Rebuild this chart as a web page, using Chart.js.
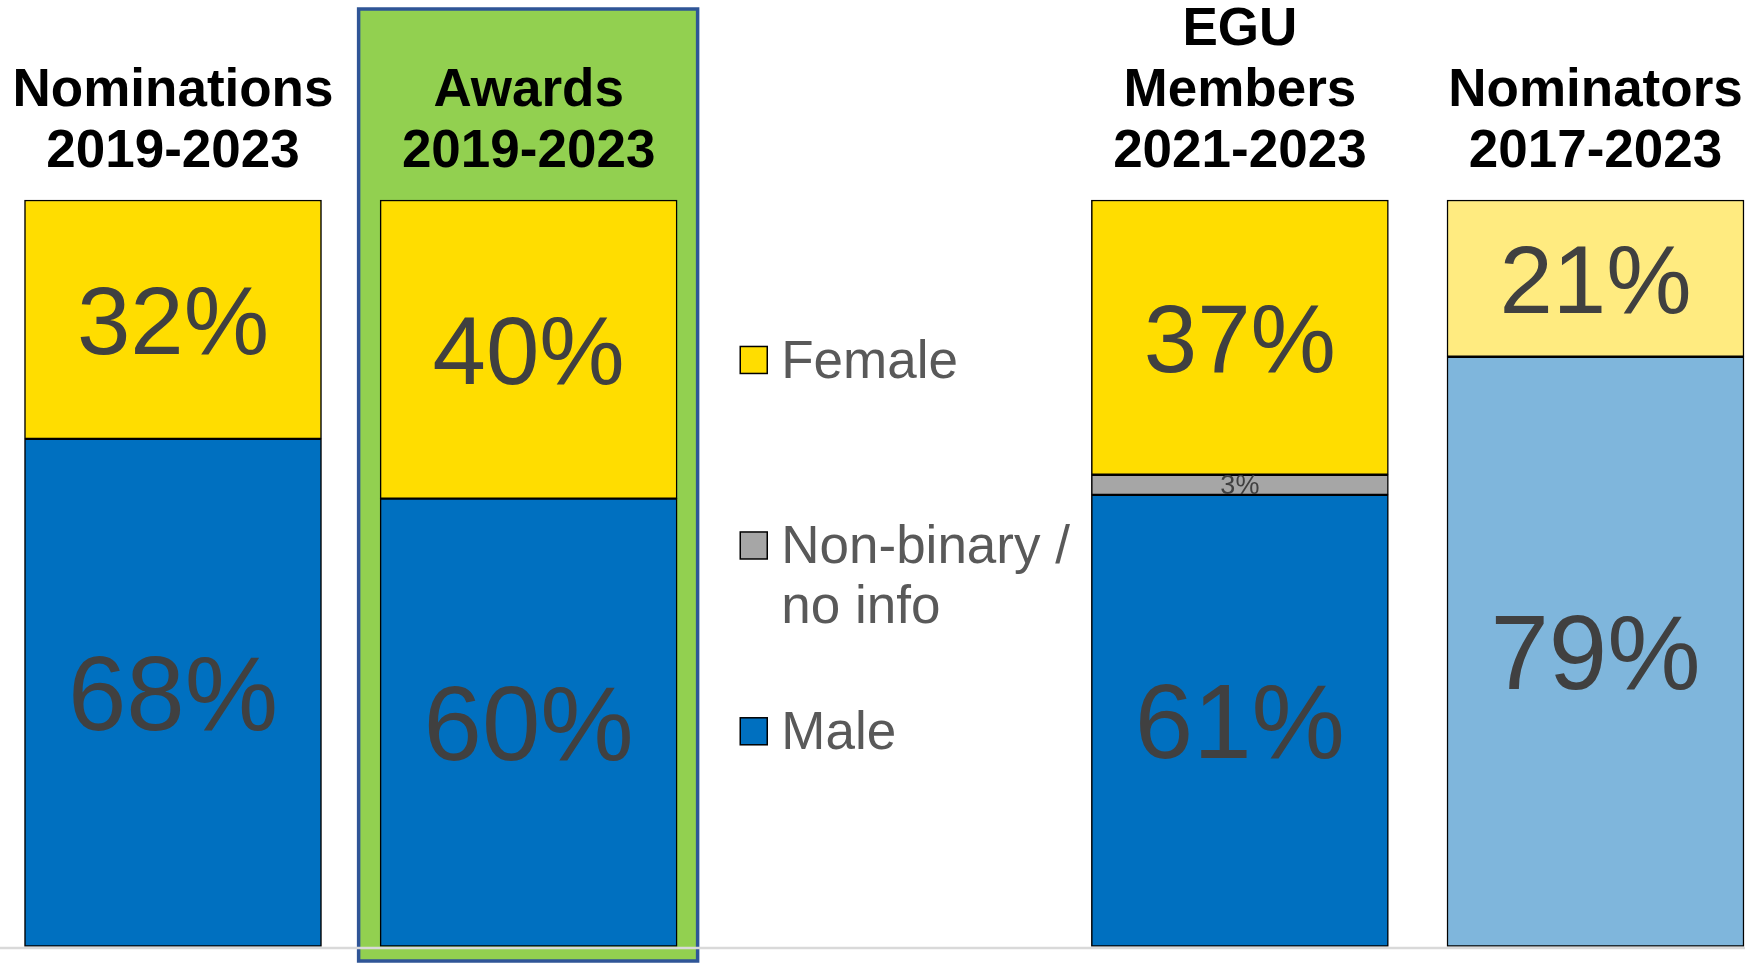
<!DOCTYPE html>
<html><head><meta charset="utf-8">
<script src="https://cdn.jsdelivr.net/npm/chart.js@4.4.0/dist/chart.umd.min.js"></script>
<style>html,body{margin:0;padding:0;background:#fff;} canvas{display:block;}</style>
</head><body>
<canvas id="c" width="1747" height="963"></canvas>
<script>
// ---- data ----
const categories = [["Nominations","2019-2023"],["Awards","2019-2023"],"",["EGU","Members","2021-2023"],["Nominators","2017-2023"]];
const seriesNames = ["Male","Non-binary / no info","Female"];
const legendLines = [["Female"],["Non-binary /","no info"],["Male"]];
const maleValues = [68, 60, null, 60.5, 79];
const nonBinaryValues = [null, null, null, 2.7, null];
const femaleValues = [32, 40, null, 36.8, 21];
const highlightedIndex = 1;   // "Awards" column is highlighted
const legendIndex = 2;        // empty column holding the legend

// ---- styles ----
const FONT = '"Liberation Sans", Arial, sans-serif';
const maleColors = ['#0070C0','#0070C0',null,'#0070C0','#7FB6DC'];
const nbColors = ['#A6A6A6','#A6A6A6',null,'#A6A6A6','#A6A6A6'];
const femaleColors = ['#FFDD00','#FFDD00',null,'#FFDD00','#FFEB80'];

const highlightPlugin = {
  id:'highlight',
  beforeDraw(chart){
    const x = chart.scales.x.getPixelForValue(highlightedIndex);
    const ctx = chart.ctx; ctx.save();
    ctx.fillStyle = '#92D050';
    ctx.strokeStyle = '#2F5597';
    ctx.lineWidth = 3.5;
    ctx.fillRect(x-170, 9, 339, 952);
    ctx.strokeRect(x-170, 9, 339, 952);
    ctx.restore();
  }
};

const baselinePlugin = {
  id:'baseline',
  afterDatasetsDraw(chart){
    const y = chart.scales.y.getPixelForValue(0);
    const ctx = chart.ctx; ctx.save();
    ctx.strokeStyle = '#D9D9D9'; ctx.lineWidth = 2.5;
    ctx.beginPath(); ctx.moveTo(0, y+1.6); ctx.lineTo(1745, y+1.6); ctx.stroke();
    ctx.restore();
  }
};

const valueLabelPlugin = {
  id:'valueLabels',
  afterDatasetsDraw(chart){
    const ctx = chart.ctx; ctx.save();
    ctx.fillStyle = '#404040'; ctx.textAlign = 'center'; ctx.textBaseline = 'alphabetic';
    chart.data.datasets.forEach((ds, di) => {
      const meta = chart.getDatasetMeta(di);
      meta.data.forEach((el, i) => {
        const v = ds.data[i];
        if (v == null) return;
        const size = ds.labelSize;
        ctx.font = size + 'px ' + FONT;
        const cy = (el.y + el.base) / 2;
        ctx.fillText(Math.round(v) + '%', el.x, cy + size * 0.358);
      });
    });
    ctx.restore();
  }
};

const legendPlugin = {
  id:'sideLegend',
  afterDraw(chart){
    const ctx = chart.ctx; const area = chart.chartArea;
    const cx = chart.scales.x.getPixelForValue(legendIndex);
    const ds = chart.data.datasets;
    const order = [2,1,0];
    const fr = [0.2143, 0.4628, 0.7117];
    ctx.save();
    ctx.font = '53px ' + FONT; ctx.textAlign = 'left'; ctx.textBaseline = 'alphabetic';
    order.forEach((di, k) => {
      const yc = area.top + fr[k] * (area.bottom - area.top);
      ctx.fillStyle = ds[di].backgroundColor[0];
      ctx.fillRect(cx-144, yc-13.5, 27, 27);
      ctx.strokeStyle = '#000'; ctx.lineWidth = 1.5;
      ctx.strokeRect(cx-144, yc-13.5, 27, 27);
      ctx.fillStyle = '#595959';
      legendLines[k].forEach((t, li) => ctx.fillText(t, cx-103, yc + 18 + li*60));
    });
    ctx.restore();
  }
};

const common = { borderColor:'#000', borderWidth:1.5, borderSkipped:false, barThickness:297, clip:false };

new Chart(document.getElementById('c'), {
  type:'bar',
  data:{
    labels: categories,
    datasets:[
      Object.assign({ label: seriesNames[0], data: maleValues, backgroundColor: maleColors, labelSize:105 }, common),
      Object.assign({ label: seriesNames[1], data: nonBinaryValues, backgroundColor: nbColors, labelSize:27 }, common),
      Object.assign({ label: seriesNames[2], data: femaleValues, backgroundColor: femaleColors, labelSize:96 }, common)
    ]
  },
  options:{
    responsive:false, animation:false, devicePixelRatio:1,
    layout:{ padding:{ left:173, right:151.5, top:0, bottom:16.5 } },
    plugins:{ legend:{display:false}, tooltip:{enabled:false} },
    scales:{
      x:{ type:'category', position:'top', offset:false, stacked:true,
          grid:{display:false, drawTicks:false}, border:{display:false},
          ticks:{ autoSkip:false, maxRotation:0, minRotation:0, padding:17, color:'#000',
                  font:{ family:FONT, weight:'bold', size:53, lineHeight:1.15 } },
          afterFit(s){ s.height = 200; s.paddingLeft = 0; s.paddingRight = 0; } },
      y:{ stacked:true, min:0, max:100, display:false }
    }
  },
  plugins:[highlightPlugin, baselinePlugin, valueLabelPlugin, legendPlugin]
});
</script>
</body></html>
